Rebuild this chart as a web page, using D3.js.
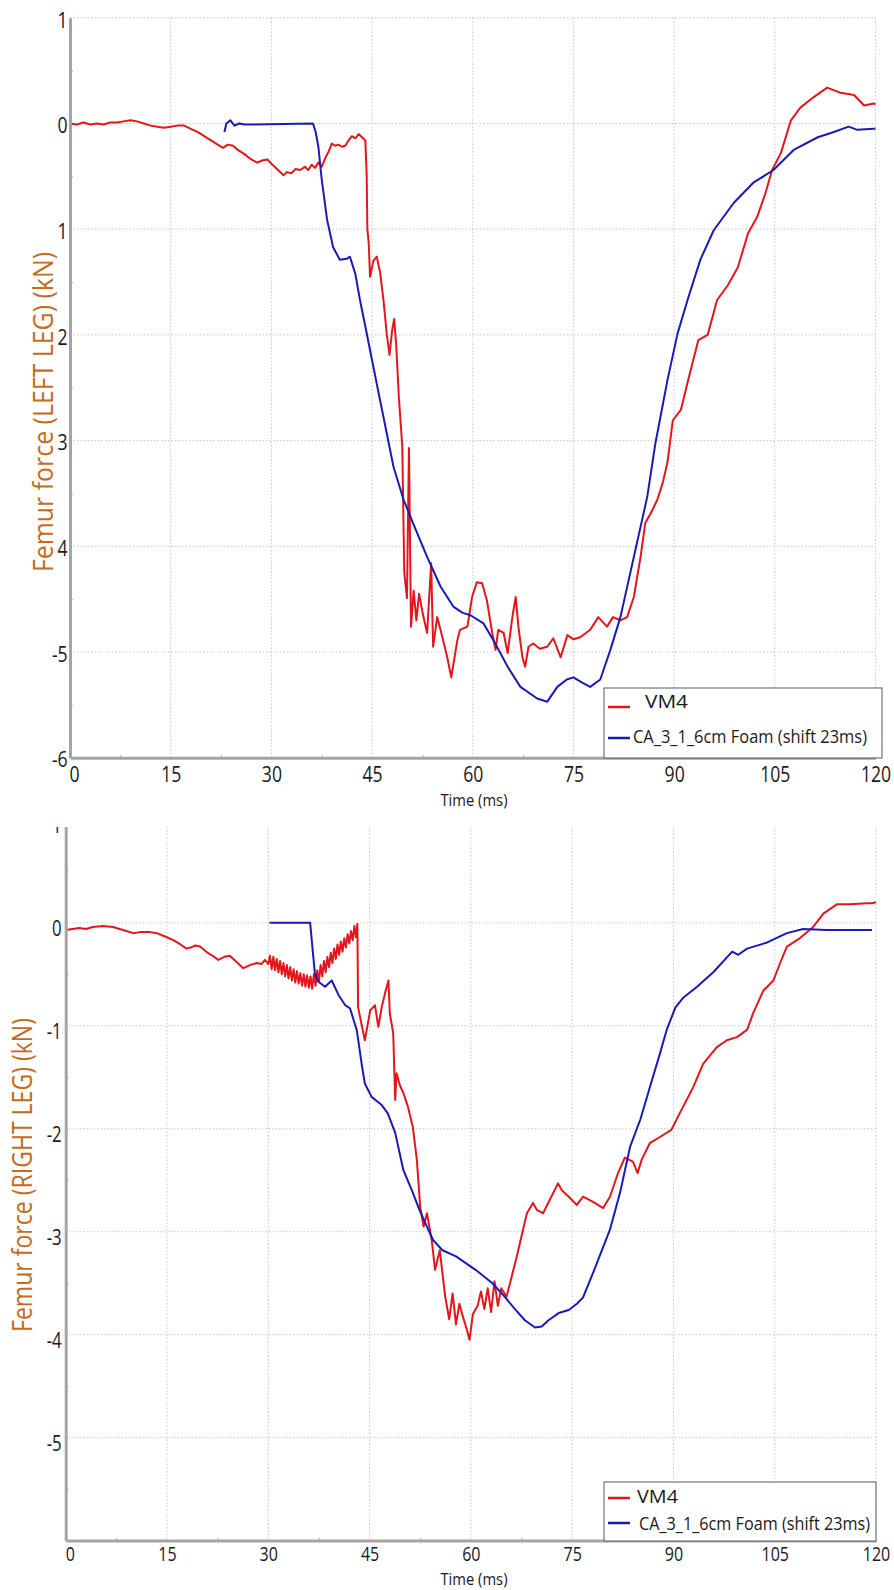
<!DOCTYPE html>
<html>
<head>
<meta charset="utf-8">
<script src="https://cdn.jsdelivr.net/npm/d3@7"></script>
<style>
  body { margin: 0; background: #fff; }
  svg { display: block; }
</style>
</head>
<body>
<svg id="chart" width="894" height="1590"></svg>
<script>
// ---- shared axis setup ----
const timeTicks = [0, 15, 30, 45, 60, 75, 90, 105, 120];
const leftForceTicks = [1, 0, -1, -2, -3, -4, -5, -6];
const leftForceTickLabels = ["1", "0", "1", "2", "3", "4", "-5", "-6"];
const rightForceTicks = [1, 0, -1, -2, -3, -4, -5];
const rightForceTickLabels = ["1", "0", "-1", "-2", "-3", "-4", "-5"];
const seriesNames = ["VM4", "CA_3_1_6cm Foam (shift 23ms)"];

// ---- left leg: VM4 test ----
const leftVm4Time = [0,1,2,3,4,5,6,7,8,9,10,11,12,13,14,15,16,17,18,19,20,21,22,22.8,23.5,24.3,25,26,27,27.9,28.6,29.4,30,31,31.8,32.3,33,33.6,34.3,35,35.5,36,36.5,37,37.5,38,38.5,39,39.5,40,40.5,41,41.5,42,42.5,43,43.5,44,44.2,44.3,44.5,44.7,45.2,45.7,46.2,46.7,47.2,47.6,48.0,48.3,48.6,49.0,49.5,49.8,50.2,50.5,50.8,51.2,51.6,52.0,52.6,53.2,53.8,54.1,54.7,55.2,56.2,56.8,57.7,58.1,59.2,59.9,60.6,61.4,62.1,62.9,63.4,63.8,64.6,65.2,65.9,66.4,66.8,67.4,67.8,68.3,69.0,70.0,71.1,72.0,73.1,74.1,75.0,76.0,77.5,78.7,80.0,80.9,82.0,83.0,84.0,85.0,85.7,86.5,87.5,88.3,89.0,89.8,91.0,92.2,93.6,95.0,96.4,98.0,99.5,101,102.4,103.6,104.6,105.9,107.4,108.8,110.8,112.8,114.8,116.8,118.3,119.7,120];
const leftVm4Force = [0,-0.01,0.01,-0.01,0,-0.01,0.01,0.01,0.02,0.03,0.02,0,-0.02,-0.03,-0.04,-0.03,-0.02,-0.02,-0.05,-0.08,-0.12,-0.16,-0.2,-0.23,-0.2,-0.21,-0.25,-0.29,-0.34,-0.37,-0.35,-0.34,-0.38,-0.44,-0.49,-0.46,-0.47,-0.43,-0.44,-0.41,-0.44,-0.39,-0.42,-0.37,-0.41,-0.33,-0.27,-0.19,-0.21,-0.2,-0.22,-0.21,-0.16,-0.12,-0.14,-0.1,-0.13,-0.16,-0.5,-1.0,-1.13,-1.45,-1.3,-1.26,-1.41,-1.67,-2.0,-2.19,-1.95,-1.85,-2.1,-2.6,-3.05,-4.25,-4.49,-3.07,-4.76,-4.42,-4.7,-4.45,-4.65,-4.82,-4.16,-4.95,-4.67,-4.79,-5.05,-5.24,-4.89,-4.79,-4.76,-4.48,-4.34,-4.35,-4.51,-4.82,-4.98,-4.79,-4.82,-5.01,-4.67,-4.48,-4.76,-5.05,-5.14,-4.95,-4.92,-4.97,-4.95,-4.87,-5.05,-4.84,-4.88,-4.86,-4.79,-4.67,-4.76,-4.67,-4.7,-4.67,-4.48,-4.1,-3.78,-3.69,-3.56,-3.4,-3.21,-2.81,-2.71,-2.4,-2.05,-2.0,-1.67,-1.53,-1.36,-1.04,-0.88,-0.66,-0.44,-0.28,0.03,0.15,0.25,0.34,0.29,0.27,0.17,0.19,0.18];

// ---- left leg: CA_3_1 simulation ----
const leftCaTime = [23.0,23.3,23.9,24.5,25.2,26,36.2,36.6,37,37.5,38.3,39.2,40.2,41.2,41.7,42.5,43.2,44,45,46.2,48.2,49.7,51.1,53.2,55.2,57.1,58.5,59.6,61.6,63.1,65.2,67.1,69.6,71.1,72.6,74,75.0,76.3,77.5,79.0,80.5,82.0,84.0,86.0,87.2,89,90.5,92,93.9,95.9,98.9,101.8,104.8,107.8,111.4,113.8,116,117.3,119.7,120];
const leftCaForce = [-0.08,0,0.03,-0.02,0,-0.01,0,-0.08,-0.22,-0.53,-0.91,-1.17,-1.29,-1.28,-1.26,-1.42,-1.67,-1.92,-2.24,-2.62,-3.25,-3.56,-3.78,-4.1,-4.38,-4.57,-4.63,-4.65,-4.73,-4.89,-5.14,-5.33,-5.44,-5.47,-5.33,-5.26,-5.24,-5.29,-5.33,-5.26,-4.98,-4.67,-4.1,-3.53,-3.03,-2.43,-1.99,-1.67,-1.29,-1.01,-0.75,-0.56,-0.44,-0.25,-0.13,-0.08,-0.03,-0.06,-0.05,-0.05];

// ---- right leg: VM4 test ----
const rightVm4Time = [0,1,2,3,4,5.5,7,8.5,10,11,12.5,13.5,15,16,17,17.9,18.5,19.2,19.9,21,22,22.6,23.5,24.3,25.3,26.3,27.3,28.3,29,29.5,30,30.25,30.5,30.75,31,31.25,31.5,31.75,32,32.25,32.5,32.75,33,33.25,33.5,33.75,34,34.25,34.5,34.75,35,35.25,35.5,35.75,36,36.25,36.5,36.75,37,37.25,37.5,37.75,38,38.25,38.5,38.75,39,39.25,39.5,39.75,40,40.25,40.5,40.75,41,41.25,41.5,41.75,42,42.25,42.5,42.75,43,43.2,43.3,44.3,45.1,45.8,46.3,46.8,47.3,47.8,48.0,48.5,48.8,49.0,49.5,50.0,50.7,51.4,52.0,52.5,53.0,53.5,54.2,54.7,55.4,56.2,56.8,57.3,57.8,58.3,58.8,59.4,59.8,60.3,61,61.5,62,62.5,63,63.5,64,64.5,65.3,66.8,68.3,69.2,69.8,70.7,71.7,72.9,73.5,74.5,75.7,76.6,78.1,79.6,80.6,81.8,82.8,84,84.7,85.3,86.5,88,89.7,91.4,92.9,94.4,96.4,97.9,99.4,100.9,101.8,103.3,104.8,105.8,106.8,108.7,110.7,112.2,114.2,116.2,118.7,119.4,120];
const rightVm4Force = [-0.07,-0.06,-0.05,-0.06,-0.04,-0.03,-0.04,-0.07,-0.1,-0.09,-0.09,-0.1,-0.14,-0.17,-0.21,-0.25,-0.24,-0.22,-0.23,-0.29,-0.33,-0.36,-0.33,-0.32,-0.38,-0.44,-0.41,-0.39,-0.4,-0.36,-0.4,-0.32,-0.45,-0.33,-0.46,-0.35,-0.48,-0.37,-0.5,-0.39,-0.52,-0.41,-0.54,-0.43,-0.56,-0.45,-0.58,-0.47,-0.59,-0.49,-0.61,-0.5,-0.62,-0.51,-0.63,-0.52,-0.64,-0.5,-0.61,-0.46,-0.57,-0.41,-0.52,-0.37,-0.48,-0.33,-0.43,-0.29,-0.39,-0.25,-0.35,-0.21,-0.31,-0.18,-0.28,-0.15,-0.24,-0.11,-0.2,-0.08,-0.17,-0.03,-0.14,-0.01,-0.82,-1.14,-0.85,-0.8,-1.01,-0.82,-0.68,-0.56,-0.88,-1.07,-1.72,-1.46,-1.58,-1.65,-1.79,-1.98,-2.3,-2.76,-2.95,-2.82,-3.08,-3.37,-3.18,-3.63,-3.85,-3.6,-3.9,-3.7,-3.82,-3.95,-4.05,-3.8,-3.72,-3.58,-3.75,-3.55,-3.78,-3.48,-3.72,-3.55,-3.63,-3.24,-2.82,-2.72,-2.79,-2.82,-2.69,-2.53,-2.6,-2.66,-2.74,-2.66,-2.71,-2.77,-2.66,-2.43,-2.28,-2.32,-2.43,-2.3,-2.14,-2.08,-2.01,-1.79,-1.6,-1.37,-1.21,-1.14,-1.11,-1.04,-0.88,-0.66,-0.56,-0.39,-0.23,-0.15,-0.04,0.09,0.18,0.18,0.19,0.19,0.2];

// ---- right leg: CA_3_1 simulation ----
const rightCaTime = [30.2,36.2,36.9,37.4,38.4,39.4,40.4,41.4,42.1,43.1,43.9,44.3,45.3,46.8,47.7,48.8,50,51.4,52.4,53.5,54.4,55.8,57.8,60.7,63.2,65,66.5,68,69.5,70.5,71.5,73,74.5,75.7,76.6,78.1,80.6,82.1,83.6,85.1,86.5,88,89,90.3,91.4,93.5,95.9,98.7,99.6,100.9,103.9,106.8,109.2,112.7,119.4];
const rightCaForce = [0,0,-0.49,-0.57,-0.62,-0.56,-0.7,-0.8,-0.83,-1.04,-1.4,-1.56,-1.69,-1.77,-1.85,-2.04,-2.4,-2.62,-2.79,-2.95,-3.08,-3.18,-3.24,-3.37,-3.5,-3.63,-3.75,-3.86,-3.93,-3.92,-3.86,-3.79,-3.76,-3.7,-3.64,-3.4,-2.98,-2.62,-2.17,-1.91,-1.6,-1.27,-1.04,-0.82,-0.73,-0.62,-0.48,-0.28,-0.31,-0.25,-0.19,-0.1,-0.06,-0.07,-0.07];

const RED = "#e3161c";
const BLUE = "#1a1ab4";
const FONT = "'Open Sans', 'DejaVu Sans', sans-serif";

const svg = d3.select("#chart");

function drawPanel(p) {
  const root = svg.append("g");
  if (p.clipTop != null) {
    const id = "clip-" + p.id;
    svg.append("defs").append("clipPath").attr("id", id)
      .append("rect").attr("x", 0).attr("y", p.clipTop).attr("width", 894).attr("height", 1590 - p.clipTop);
    root.attr("clip-path", `url(#${id})`);
  }

  const x = d3.scaleLinear().domain([0, 120]).range([p.left, p.right]);
  const y = d3.scaleLinear().domain([-6, 1]).range([p.bottom, p.top]);

  // dotted grid
  const grid = root.append("g").attr("stroke", "#c4c4c4").attr("stroke-width", 1)
    .attr("stroke-dasharray", "1.5,2");
  grid.selectAll("line.v").data(timeTicks.slice(1)).join("line")
    .attr("x1", d => x(d)).attr("x2", d => x(d))
    .attr("y1", y(1)).attr("y2", y(-6));
  grid.selectAll("line.h").data(d3.range(1, -6, -1)).join("line")
    .attr("x1", x(0)).attr("x2", x(120))
    .attr("y1", d => y(d)).attr("y2", d => y(d));

  // curves
  const line = d3.line().x(d => x(d[0])).y(d => y(d[1]));
  p.series.forEach(s => {
    root.append("path")
      .datum(d3.zip(s.t, s.f))
      .attr("fill", "none")
      .attr("stroke", s.color)
      .attr("stroke-width", 2)
      .attr("stroke-linejoin", "round")
      .attr("d", line);
  });

  // minor ticks
  const halfForce = d3.range(-5.5, 1, 1);
  const halfTime = d3.range(7.5, 120, 15);
  root.append("g").attr("transform", `translate(${p.left},0)`)
    .call(d3.axisLeft(y).tickValues(halfForce).tickSize(-3).tickSizeOuter(0).tickFormat(""))
    .call(g => g.select(".domain").remove())
    .call(g => g.selectAll("line").attr("stroke", "#b0b0b0"));
  root.append("g").attr("transform", `translate(0,${p.bottom})`)
    .call(d3.axisBottom(x).tickValues(halfTime).tickSize(-3).tickSizeOuter(0).tickFormat(""))
    .call(g => g.select(".domain").remove())
    .call(g => g.selectAll("line").attr("stroke", "#b0b0b0"));

  // y axis
  root.append("g").attr("transform", `translate(${p.left},0)`)
    .call(d3.axisLeft(y).tickValues(p.yTicks).tickSize(0).tickSizeOuter(0)
      .tickPadding(p.yPad).tickFormat((d, i) => p.yLabels[i]))
    .call(g => g.select(".domain").attr("stroke", "#a4a4a4").attr("stroke-width", 3))
    .call(g => g.selectAll("text")
      .attr("fill", "#1a1a1a").attr("font-family", FONT).attr("font-size", p.tickSize)
      .attr("dy", p.yDy).attr("transform", "scale(0.8,1)"));

  // x axis
  root.append("g").attr("transform", `translate(0,${p.bottom})`)
    .call(d3.axisBottom(x).tickValues(timeTicks).tickSize(0).tickSizeOuter(0)
      .tickPadding(p.xPad).tickFormat(d3.format("d")))
    .call(g => g.select(".domain").attr("stroke", "#a4a4a4").attr("stroke-width", 3))
    .call(g => g.selectAll("text")
      .attr("fill", "#1a1a1a").attr("font-family", FONT).attr("font-size", p.xTickSize)
      .attr("dy", "0.71em")
      .attr("transform", d => d === 0 ? "translate(4,0) scale(0.8,1)" : "scale(0.8,1)"));

  // x axis title
  root.append("text")
    .attr("x", p.timeX).attr("y", p.timeY)
    .attr("text-anchor", "middle")
    .attr("font-family", FONT).attr("font-size", p.timeSize).attr("fill", "#1a1a1a")
    .attr("textLength", 67).attr("lengthAdjust", "spacingAndGlyphs")
    .text("Time (ms)");

  // y axis title
  root.append("text")
    .attr("transform", `translate(${p.titleX},${p.titleY}) rotate(-90)`)
    .attr("text-anchor", "middle")
    .attr("font-family", FONT).attr("font-size", 27).attr("fill", "#c46c1e")
    .attr("textLength", p.titleLen).attr("lengthAdjust", "spacingAndGlyphs")
    .text(p.title);

  // legend
  const L = p.legend;
  const lg = root.append("g");
  lg.append("rect")
    .attr("x", L.x).attr("y", L.y).attr("width", L.w).attr("height", L.h)
    .attr("fill", "#fff").attr("stroke", "#5a5a5a").attr("stroke-width", 1);
  [RED, BLUE].forEach((c, i) => {
    lg.append("line")
      .attr("x1", L.x + 4).attr("x2", L.x + 26)
      .attr("y1", L.rows[i]).attr("y2", L.rows[i])
      .attr("stroke", c).attr("stroke-width", 2.5);
    lg.append("text")
      .attr("x", L.textX[i]).attr("y", L.base[i])
      .attr("font-family", FONT).attr("font-size", 18).attr("fill", "#1a1a1a")
      .attr("textLength", L.textLen[i]).attr("lengthAdjust", "spacingAndGlyphs")
      .text(seriesNames[i]);
  });
}

drawPanel({
  id: "left",
  left: 70, right: 875.5, top: 17.8, bottom: 757.7,
  yTicks: leftForceTicks, yLabels: leftForceTickLabels, yPad: 3, yDy: "0.42em",
  xPad: 9, tickSize: 22, xTickSize: 22,
  timeX: 474, timeY: 806, timeSize: 17,
  title: "Femur force (LEFT LEG) (kN)", titleX: 53, titleY: 412, titleLen: 320,
  series: [
    { t: leftVm4Time, f: leftVm4Force, color: RED },
    { t: leftCaTime, f: leftCaForce, color: BLUE }
  ],
  legend: { x: 604, y: 688, w: 278, h: 70, rows: [707, 738], base: [708, 743],
            textX: [645, 633], textLen: [43, 234] }
});

drawPanel({
  id: "right",
  left: 65.7, right: 876, top: 819.9, bottom: 1540.6, clipTop: 827,
  yTicks: rightForceTicks, yLabels: rightForceTickLabels, yPad: 5, yDy: "0.62em",
  xPad: 6, tickSize: 21, xTickSize: 20,
  timeX: 474, timeY: 1585, timeSize: 16,
  title: "Femur force (RIGHT LEG) (kN)", titleX: 32, titleY: 1175, titleLen: 314,
  series: [
    { t: rightVm4Time, f: rightVm4Force, color: RED },
    { t: rightCaTime, f: rightCaForce, color: BLUE }
  ],
  legend: { x: 604, y: 1482, w: 272, h: 59, rows: [1498, 1523], base: [1503, 1530],
            textX: [637, 639], textLen: [41, 231] }
});
</script>
</body>
</html>
